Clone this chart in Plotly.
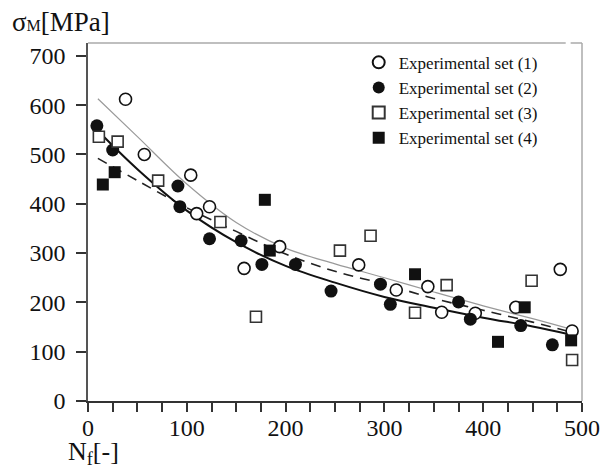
import plotly.graph_objects as go

# Experimental data
set1_x = [38, 57, 104, 110, 123, 158, 194, 274, 312, 344, 358, 392, 433, 478, 490]
set1_y = [612, 500, 458, 380, 394, 269, 313, 276, 225, 232, 180, 178, 190, 267, 142]

set2_x = [9, 25, 91, 93, 123, 155, 176, 210, 246, 296, 306, 375, 387, 438, 470]
set2_y = [558, 509, 436, 394, 329, 325, 277, 277, 223, 237, 196, 201, 166, 153, 114]

set3_x = [11, 30, 71, 134, 170, 255, 286, 331, 363, 449, 490]
set3_y = [536, 526, 447, 363, 171, 305, 335, 179, 235, 244, 83]

set4_x = [15, 27, 179, 184, 331, 442, 415, 489]
set4_y = [439, 464, 408, 305, 257, 190, 120, 123]

# Fitted curves
fit_x = [10, 50, 100, 150, 200, 250, 300, 350, 400, 450, 490]
fit_gray_y = [613, 536, 440, 362, 310, 278, 250, 221, 193, 167, 145]
fit_solid_x = [8, 50, 100, 150, 200, 250, 300, 350, 400, 450, 490]
fit_solid_y = [552, 470, 386, 322, 274, 240, 211, 189, 169, 151, 134]
fit_dash_y = [492, 447, 392, 344, 298, 263, 237, 208, 184, 160, 139]

x_tickvals = list(range(0, 501, 25))
x_ticktext = [str(v) if v % 100 == 0 else "" for v in x_tickvals]
y_tickvals = [0, 100, 200, 300, 400, 500, 600, 700]

FONT = "Liberation Serif"

fig = go.Figure()

fig.add_trace(go.Scatter(x=fit_x, y=fit_gray_y, mode="lines", line=dict(color="#9a9a9a", width=1.2, shape="spline"),
                         showlegend=False, hoverinfo="skip"))
fig.add_trace(go.Scatter(x=fit_x, y=fit_dash_y, mode="lines", line=dict(color="#222", width=1.6, dash="10px,7px", shape="spline"),
                         showlegend=False, hoverinfo="skip"))
fig.add_trace(go.Scatter(x=fit_solid_x, y=fit_solid_y, mode="lines", line=dict(color="#111", width=2, shape="spline"),
                         showlegend=False, hoverinfo="skip"))

fig.add_trace(go.Scatter(x=set1_x, y=set1_y, mode="markers", name="Experimental set (1)",
                         marker=dict(symbol="circle", size=12, color="white", line=dict(color="#111", width=1.6))))
fig.add_trace(go.Scatter(x=set2_x, y=set2_y, mode="markers", name="Experimental set (2)",
                         marker=dict(symbol="circle", size=13, color="#111", line=dict(color="#111", width=0))))
fig.add_trace(go.Scatter(x=set3_x, y=set3_y, mode="markers", name="Experimental set (3)",
                         marker=dict(symbol="square", size=11, color="white", line=dict(color="#333", width=1.6))))
fig.add_trace(go.Scatter(x=set4_x, y=set4_y, mode="markers", name="Experimental set (4)",
                         marker=dict(symbol="square", size=12, color="#111", line=dict(color="#111", width=0))))

fig.update_layout(
    width=602, height=470,
    margin=dict(l=88, r=20, t=43, b=69, autoexpand=False),
    paper_bgcolor="white", plot_bgcolor="white",
    font=dict(family=FONT, size=24, color="#111"),
    showlegend=True,
    legend=dict(x=0.548, y=0.995, xanchor="left", yanchor="top", bgcolor="rgba(0,0,0,0)",
                font=dict(family=FONT, size=17, color="#111"), itemsizing="constant",
                tracegroupgap=0, itemwidth=30),
    xaxis=dict(range=[0, 500], tickvals=x_tickvals, ticktext=x_ticktext, ticks="outside", ticklen=9,
               tickwidth=1.5, tickcolor="#333", showline=True, linecolor="#333", linewidth=1.5,
               showgrid=False, zeroline=False, ticklabeloverflow="allow", automargin=False,
               ticklabelstandoff=-5, tickfont=dict(family=FONT, size=24, color="#111")),
    yaxis=dict(range=[0, 726], tickvals=y_tickvals, ticks="outside", ticklen=10, tickwidth=1.5,
               tickcolor="#333", showline=True, linecolor="#555", linewidth=1.5, showgrid=False,
               zeroline=False, automargin=False, ticklabelstandoff=6,
               tickfont=dict(family=FONT, size=24, color="#111")),
    shapes=[
        dict(type="line", xref="paper", yref="paper", x0=0, x1=0.967, y0=1, y1=1, line=dict(color="#aaa", width=1.5)),
        dict(type="line", xref="paper", yref="paper", x0=0.977, x1=1, y0=1, y1=1, line=dict(color="#aaa", width=1.5)),
        dict(type="line", xref="paper", yref="paper", x0=1, x1=1, y0=0, y1=1, line=dict(color="#aaa", width=1.5)),
    ],
    annotations=[
        dict(text="σ<span style='font-size:16px'>M</span>[MPa]", xref="paper", yref="paper", x=-0.158, y=1.059,
             xanchor="left", yanchor="middle", showarrow=False, font=dict(family=FONT, size=27, color="#111")),
        dict(text="N<sub>f</sub>[-]", xref="paper", yref="paper", x=-0.0445, y=-0.145,
             xanchor="left", yanchor="middle", showarrow=False, font=dict(family=FONT, size=26, color="#111")),
    ],
)

fig.write_html("out.html",
               config={"displayModeBar": False},
               post_script="document.body.style.margin='0';document.body.style.overflow='hidden';"
                           "document.documentElement.style.overflow='hidden';")
